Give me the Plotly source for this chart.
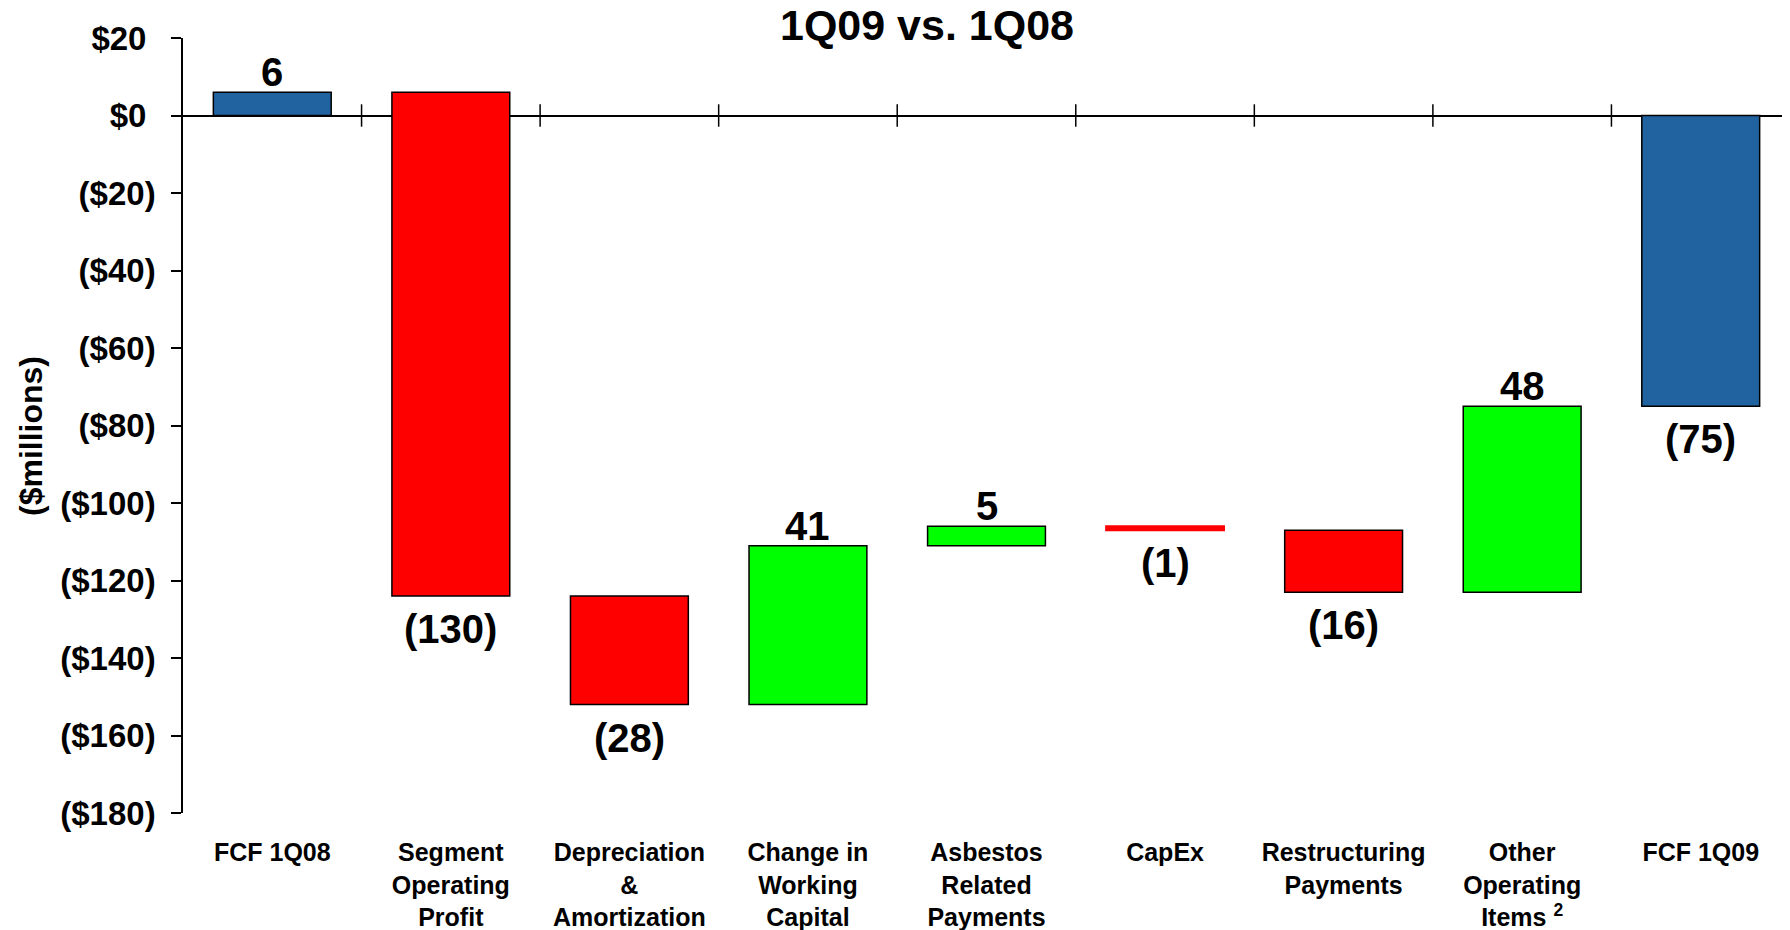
import plotly.graph_objects as go
import numpy as np

# ---- data ----
categories = [
    "FCF 1Q08",
    "Segment<br>Operating<br>Profit",
    "Depreciation<br>&<br>Amortization",
    "Change in<br>Working<br>Capital",
    "Asbestos<br>Related<br>Payments",
    "CapEx",
    "Restructuring<br>Payments",
    "Other<br>Operating<br>Items <sup>2</sup>",
    "FCF 1Q09",
]
values = [6, -130, -28, 41, 5, -1, -16, 48, -75]
measures = ["total", "relative", "relative", "relative", "relative",
            "relative", "relative", "relative", "total"]
y_ticks = [20, 0, -20, -40, -60, -80, -100, -120, -140, -160, -180]
y_tick_labels = ["$20", "$0", "($20)", "($40)", "($60)", "($80)", "($100)",
                 "($120)", "($140)", "($160)", "($180)"]
title_text = "1Q09 vs. 1Q08"
y_title = "($millions)"

# ---- derived ----
BLUE, RED, GREEN = "#2162A1", "#FF0000", "#00FF00"
bases, running = [], 0
for v, m in zip(values, measures):
    if m == "total":
        bases.append(0)
        running = v
    else:
        bases.append(running)
        running += v
ends = [b + v for b, v in zip(bases, values)]
fills = [BLUE if m == "total" else (GREEN if v > 0 else RED)
         for v, m in zip(values, measures)]
line_cols = [f if abs(v) <= 1 else "black" for v, f in zip(values, fills)]
line_w = [2 if abs(v) <= 1 else 1.5 for v in values]
labels = [str(v) if v >= 0 else f"({-v})" for v in values]
xpos = np.arange(len(categories))
seps = xpos[:-1] + 0.5
# accounting-style alignment: positive tick labels padded where ")" would be
tick_text = [t if t.endswith(")") else t + "\u00a0" for t in y_tick_labels]

FONT = "Liberation Sans, Arial, sans-serif"
W, H = 1782, 922
ML, MR, MT, MB = 175, 0, 30, 117

fig = go.Figure()
fig.add_trace(go.Bar(
    x=xpos, y=values, base=bases, width=0.66,
    marker=dict(color=fills, line=dict(color=line_cols, width=line_w)),
    showlegend=False, hoverinfo="skip",
))
fig.add_trace(go.Scatter(
    x=seps, y=[0] * len(seps), mode="markers",
    marker=dict(symbol="line-ns-open", size=16, color="black",
                line=dict(color="black", width=1.5)),
    showlegend=False, hoverinfo="skip", cliponaxis=False,
))

for x, e, v, t in zip(xpos, ends, values, labels):
    fig.add_annotation(
        x=x, y=e, text=t, showarrow=False,
        xanchor="center", yanchor="middle",
        yshift=20 if v >= 0 else -33,
        font=dict(family=FONT, size=40, weight="bold", color="black"),
    )

# y-axis title placed as rotated text
fig.add_annotation(
    text=y_title, textangle=-90, showarrow=False,
    xref="paper", yref="paper",
    x=(23 - ML) / (W - ML - MR), y=1 - (428 - MT) / (H - MT - MB),
    xanchor="center", yanchor="middle",
    font=dict(family=FONT, size=32, weight="bold", color="black"),
)

fig.update_layout(
    width=W, height=H,
    margin=dict(l=ML, r=MR, t=MT, b=MB),
    plot_bgcolor="white", paper_bgcolor="white",
    font=dict(family=FONT, color="black"),
    title=dict(text=title_text, x=919 / W, xanchor="center",
               y=1 - 17 / H, yanchor="middle",
               font=dict(family=FONT, size=43, weight="bold", color="black")),
)
fig.update_xaxes(
    range=[-0.5, len(categories) - 0.5],
    tickvals=xpos, ticktext=categories,
    showline=False, showgrid=False, zeroline=False, ticks="",
    tickfont=dict(family=FONT, size=25, weight="bold", color="black"),
    ticklabelstandoff=22, tickangle=0,
)
fig.update_yaxes(
    range=[-180, 20], tickvals=y_ticks, ticktext=tick_text,
    showline=True, linecolor="black", linewidth=1.5,
    ticks="outside", ticklen=10, tickwidth=1.5, tickcolor="black",
    showgrid=False, zeroline=True, zerolinecolor="black", zerolinewidth=1.5,
    tickfont=dict(family=FONT, size=33, weight="bold", color="black"),
    ticklabelstandoff=9,
    automargin=False,
)

fig.write_html("out.html")
